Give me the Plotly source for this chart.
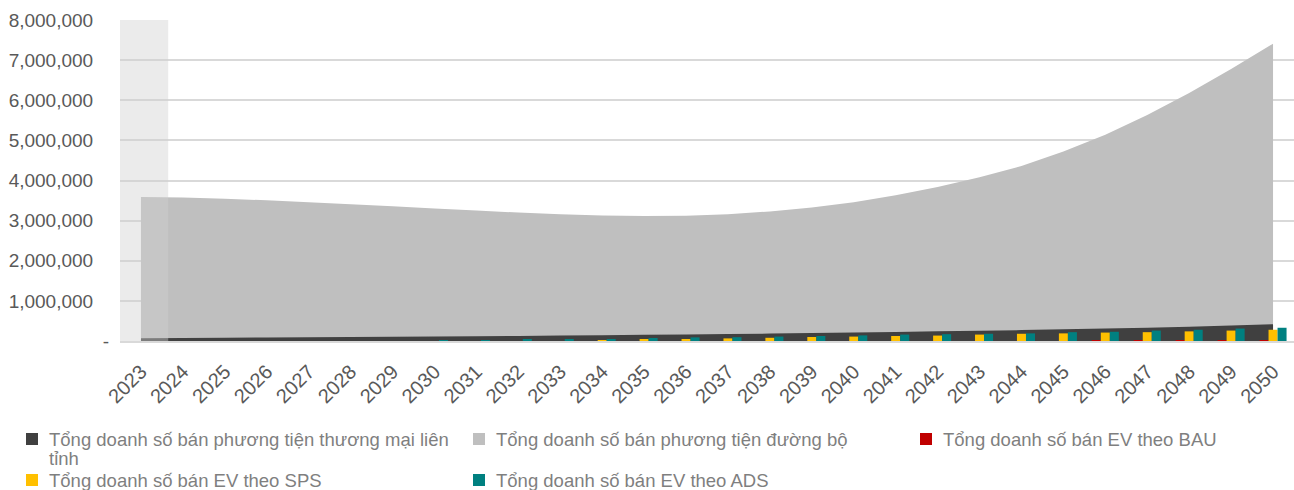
import plotly.graph_objects as go

years = [str(y) for y in range(2023, 2051)]

# Tổng doanh số bán phương tiện đường bộ (light grey area)
road_sales = [3590000, 3575000, 3545000, 3505000, 3460000, 3410000, 3360000, 3305000,
              3250000, 3200000, 3160000, 3130000, 3115000, 3120000, 3160000, 3230000,
              3330000, 3460000, 3630000, 3840000, 4080000, 4360000, 4720000, 5140000,
              5630000, 6180000, 6780000, 7410000]
# Tổng doanh số bán phương tiện thương mại liên tỉnh (dark area)
commercial_sales = [70000, 75000, 80000, 88000, 95000, 100000, 108000, 115000,
                    120000, 127000, 135000, 145000, 155000, 165000, 175000, 185000,
                    198000, 210000, 225000, 240000, 255000, 272000, 290000, 310000,
                    332000, 356000, 385000, 420000]
# EV sales by scenario (bars); values too small to see at this scale read as 0
ev_bau = [0, 0, 0, 0, 0, 0, 0, 0, 0, 0, 0, 0, 0, 0,
          0, 0, 0, 0, 0, 0, 0, 0, 0, 5000, 6000, 9000, 11000, 14000]
ev_sps = [0, 0, 0, 0, 0, 0, 0, 0, 0, 0, 0, 25000,
          35000, 50000, 65000, 80000, 100000, 110000, 125000, 135000, 160000, 180000,
          190000, 210000, 220000, 240000, 260000, 280000]
ev_ads = [0, 0, 0, 0, 0, 0, 0, 15000, 22000, 30000, 45000, 50000,
          75000, 90000, 95000, 110000, 125000, 140000, 160000, 170000, 180000, 190000,
          220000, 230000, 260000, 280000, 310000, 330000]

y_tickvals = [0, 1000000, 2000000, 3000000, 4000000, 5000000, 6000000, 7000000, 8000000]
y_ticktext = ["-"] + [f"{v:,}\u00a0\u00a0\u00a0" for v in y_tickvals[1:]]

names = ["Tổng doanh số bán phương tiện thương mại liên tỉnh",
         "Tổng doanh số bán phương tiện đường bộ",
         "Tổng doanh số bán EV theo BAU",
         "Tổng doanh số bán EV theo SPS",
         "Tổng doanh số bán EV theo ADS"]
colors = ["#404040", "#BFBFBF", "#C00000", "#FFC000", "#008080"]

FONT = "Liberation Sans, Arial, sans-serif"
W, H = 1294, 490
L, R, T, B = 120, 0, 20, 149
PW, PH = W - L - R, H - T - B


def px_x(px):
    return (px - L) / PW


def px_y(py):
    return (H - B - py) / PH


fig = go.Figure()
fig.add_trace(go.Scatter(x=years, y=road_sales, fill="tozeroy", mode="none",
                         fillcolor="#BFBFBF", name=names[1], showlegend=False, hoverinfo="skip"))
fig.add_trace(go.Scatter(x=years, y=commercial_sales, fill="tozeroy", mode="none",
                         fillcolor="#404040", name=names[0], showlegend=False, hoverinfo="skip"))
for vals, c, n in zip([ev_bau, ev_sps, ev_ads], colors[2:], names[2:]):
    fig.add_trace(go.Bar(x=years, y=vals, marker=dict(color=c, line=dict(width=0)),
                         xaxis="x2", yaxis="y2", name=n, showlegend=False))

fig.add_shape(type="rect", xref="x", yref="y", x0=-0.5, x1=0.65, y0=0, y1=8000000,
              fillcolor="rgba(208,208,208,0.42)", line=dict(width=0), layer="above")

# legend (manual, reproducing the two-column layout with the wrapped first entry)
legend_pos = [(26, 439), (473, 439), (920, 439), (26, 480), (473, 480)]
legend_lines = [["Tổng doanh số bán phương tiện thương mại liên", "tỉnh"],
                [names[1]], [names[2]], [names[3]], [names[4]]]
for (lx, ly), lines, c in zip(legend_pos, legend_lines, colors):
    fig.add_shape(type="rect", xref="paper", yref="paper",
                  x0=px_x(lx), x1=px_x(lx + 12), y0=px_y(ly + 6), y1=px_y(ly - 6),
                  fillcolor=c, line=dict(width=0))
    for k, line in enumerate(lines):
        fig.add_annotation(xref="paper", yref="paper", x=px_x(lx + 21),
                           y=px_y(ly - 12 + 19 * k),
                           xanchor="left", yanchor="top", align="left", showarrow=False,
                           text=line, font=dict(family=FONT, size=18.5, color="#7F7F7F"))

axis_common = dict(type="category", categoryorder="array", categoryarray=years,
                   range=[-0.5, 27.5])
fig.update_layout(
    width=W, height=H,
    margin=dict(l=L, r=R, t=T, b=B),
    paper_bgcolor="white", plot_bgcolor="white",
    font=dict(family=FONT, color="#595959"),
    barmode="group", bargap=0.355, bargroupgap=0,
    xaxis=dict(**axis_common, tickangle=-45, tickfont=dict(size=20, color="#595959"),
               showline=True, linecolor="#D9D9D9", linewidth=2, showgrid=False,
               ticks="", zeroline=False, ticklabelstandoff=9),
    yaxis=dict(range=[0, 8000000], tickvals=y_tickvals, ticktext=y_ticktext,
               tickfont=dict(size=19, color="#595959"), showgrid=True,
               gridcolor="#D9D9D9", gridwidth=1.5, zeroline=False, showline=False,
               ticks="", ticklabelstandoff=10),
    xaxis2=dict(**axis_common, overlaying="x", visible=False),
    yaxis2=dict(range=[0, 8000000], overlaying="y", visible=False),
    showlegend=False,
)

fig.write_html("out.html")
